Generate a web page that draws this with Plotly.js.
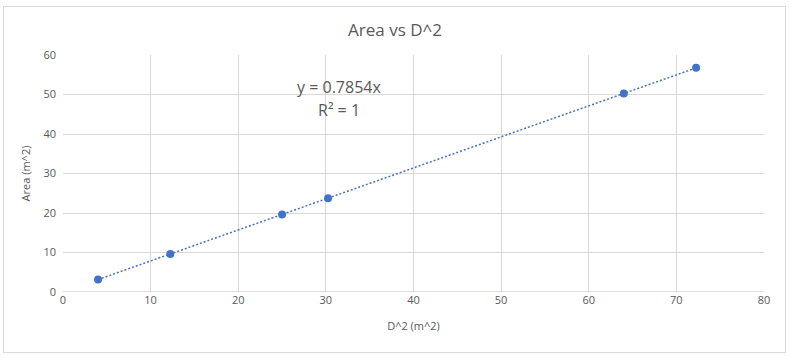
<!DOCTYPE html>
<html><head><meta charset="utf-8">
<script src="https://cdn.plot.ly/plotly-3.0.1.min.js"></script>
<style>
html,body{margin:0;padding:0;background:#fff;}
#wrap{position:relative;width:790px;height:358px;}
#chart{position:absolute;left:0;top:0;width:790px;height:358px;}
#frame{position:absolute;left:3px;top:6px;width:781px;height:345px;border:1px solid #d9d9d9;pointer-events:none;}
</style></head>
<body><div id="wrap"><div id="chart"></div><div id="frame"></div></div>
<script>
const dSquared = [4, 12.25, 25, 30.25, 64, 72.25];
const area = [3.14, 9.62, 19.63, 23.76, 50.27, 56.75];
const slope = 0.7854;
const rSquared = 1;
const xTicks = [0, 10, 20, 30, 40, 50, 60, 70, 80];
const yTicks = [0, 10, 20, 30, 40, 50, 60];

const xMin = Math.min(...dSquared), xMax = Math.max(...dSquared);
const trendX = [xMin, xMax];
const trendY = trendX.map(x => slope * x);

const blue = '#4472C4';
const grey = '#595959';
const font = 'Open Sans, Liberation Sans, sans-serif';

const data = [
  {x: trendX, y: trendY, mode: 'lines', type: 'scatter',
   line: {color: blue, width: 1.5, dash: '2px,2px'}, hoverinfo: 'skip', showlegend: false},
  {x: dSquared, y: area, mode: 'markers', type: 'scatter',
   marker: {color: blue, size: 8}, showlegend: false}
];

const layout = {
  width: 790, height: 358,
  margin: {l: 63, r: 26, t: 55, b: 66},
  paper_bgcolor: 'rgba(0,0,0,0)', plot_bgcolor: '#fff',
  title: {text: 'Area vs D^2', font: {family: font, size: 17, color: grey}, x: 0.5, xanchor: 'center', y: 0.915, yanchor: 'middle'},
  xaxis: {range: [0, 80], tickvals: xTicks, ticktext: xTicks.map(String),
    showgrid: true, gridcolor: '#d9d9d9', zeroline: false, showline: false,
    ticks: '', tickfont: {family: font, size: 11, color: grey},
    title: {text: 'D^2 (m^2)', font: {family: font, size: 11, color: grey}, standoff: 16}},
  yaxis: {range: [0, 60], tickvals: yTicks, ticktext: yTicks.map(String),
    showgrid: true, gridcolor: '#d9d9d9', zeroline: false, showline: false,
    ticks: '', ticklabelstandoff: 6, tickfont: {family: font, size: 11, color: grey},
    title: {text: 'Area (m^2)', font: {family: font, size: 11, color: grey}, standoff: 10}},
  shapes: [{type: 'line', xref: 'paper', yref: 'y', x0: 0, x1: 1, y0: 0, y1: 0, line: {color: '#bfbfbf', width: 1}}],
  annotations: [
    {xref: 'paper', yref: 'paper', x: (339 - 63) / 701, y: (292 - 87) / 237, text: 'y = ' + slope + 'x', showarrow: false,
     font: {family: font, size: 16, color: grey}, xanchor: 'center', yanchor: 'middle'},
    {xref: 'paper', yref: 'paper', x: (339 - 63) / 701, y: (292 - 110) / 237, text: 'R² = ' + rSquared, showarrow: false,
     font: {family: font, size: 16, color: grey}, xanchor: 'center', yanchor: 'middle'}
  ]
};
Plotly.newPlot('chart', data, layout, {displayModeBar: false, staticPlot: true});
</script></body></html>
